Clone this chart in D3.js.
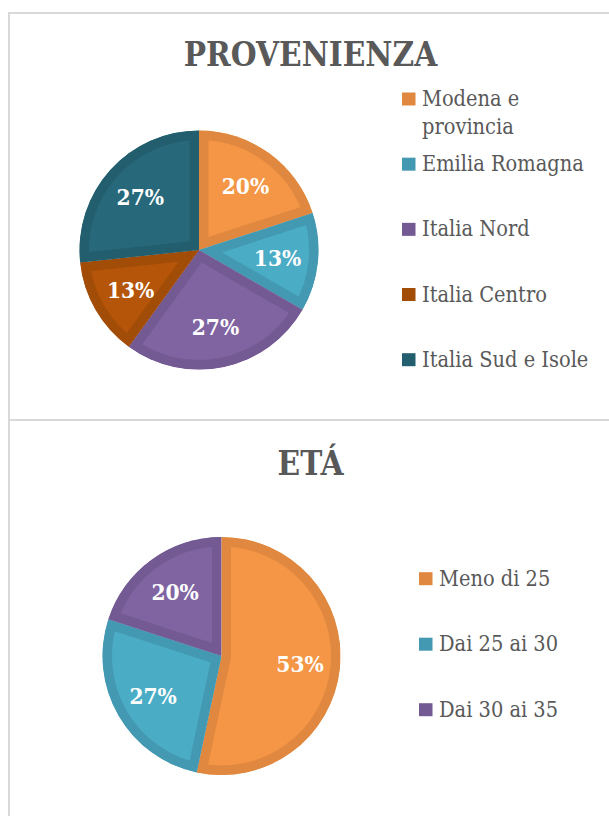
<!DOCTYPE html>
<html>
<head>
<meta charset="utf-8">
<script src="https://cdn.jsdelivr.net/npm/d3@7"></script>
<style>
  html, body { margin: 0; padding: 0; background: #fff; }
  svg { display: block; }
  text { font-stretch: condensed; }
</style>
</head>
<body>
<svg id="chart" width="609" height="816"></svg>
<script>
// ---- Data ----
const provTitle = "PROVENIENZA";
const provCategories = ["Modena e provincia", "Emilia Romagna", "Italia Nord", "Italia Centro", "Italia Sud e Isole"];
const provValues = [3, 2, 4, 2, 4];
const provLabels = ["20%", "13%", "27%", "13%", "27%"];

const etaTitle = "ETÁ";
const etaCategories = ["Meno di 25", "Dai 25 ai 30", "Dai 30 ai 35"];
const etaValues = [8, 4, 3];
const etaLabels = ["53%", "27%", "20%"];

// ---- Styles ----
const provFills = ["#F49645", "#4BACC6", "#8064A2", "#B45509", "#27697B"];
const provBorders = ["#E0883F", "#4499B2", "#745A93", "#A14C07", "#225E6E"];
const etaFills = ["#F49645", "#4BACC6", "#8064A2"];
const etaBorders = ["#E0883F", "#4499B2", "#745A93"];

const svg = d3.select("#chart");
const textColor = "#595959";
const serif = "'DejaVu Serif Condensed', 'DejaVu Serif', 'Liberation Serif', serif";

// panels
svg.append("rect").attr("x", 9).attr("y", 13).attr("width", 620).attr("height", 407)
  .attr("fill", "none").attr("stroke", "#d9d9d9").attr("stroke-width", 2);
svg.append("rect").attr("x", 9).attr("y", 420).attr("width", 620).attr("height", 420)
  .attr("fill", "none").attr("stroke", "#d9d9d9").attr("stroke-width", 2);

let clipId = 0;
const defs = svg.append("defs");

function drawPie(opts) {
  const g = svg.append("g");
  // title
  g.append("text")
    .attr("x", opts.titleX).attr("y", opts.titleY)
    .attr("text-anchor", "middle")
    .attr("font-family", serif).attr("font-weight", "bold")
    .attr("font-size", 33).attr("fill", textColor)
    .text(opts.title);

  const pie = d3.pie().sort(null).value(d => d.v);
  const data = pie(opts.values.map((v, i) => ({ v, i })));
  const arc = d3.arc().innerRadius(0).outerRadius(opts.r);
  const labelArc = d3.arc().innerRadius(opts.labelR).outerRadius(opts.labelR);

  const pg = g.append("g").attr("transform", `translate(${opts.cx},${opts.cy})`);

  data.forEach(d => {
    const id = "clip" + (clipId++);
    defs.append("clipPath").attr("id", id).append("path").attr("d", arc(d));
    pg.append("path")
      .attr("d", arc(d))
      .attr("fill", opts.fills[d.data.i])
      .attr("stroke", opts.borders[d.data.i])
      .attr("stroke-width", 19)
      .attr("stroke-linejoin", "miter")
      .attr("clip-path", `url(#${id})`);
  });

  pg.selectAll("text.lbl").data(data).enter().append("text")
    .attr("class", "lbl")
    .attr("x", d => labelArc.centroid(d)[0])
    .attr("y", d => labelArc.centroid(d)[1] + 8)
    .attr("text-anchor", "middle")
    .attr("font-family", serif).attr("font-weight", "bold")
    .attr("font-size", 22.5).attr("fill", "#ffffff")
    .text(d => opts.labels[d.data.i]);

  // legend
  const ly = d3.scaleLinear().domain([0, opts.categories.length - 1]).range(opts.legendRange);
  const lg = g.append("g");
  opts.categories.forEach((c, i) => {
    const y = ly(i);
    lg.append("rect")
      .attr("x", opts.legendX).attr("y", y - 13.5)
      .attr("width", 13.5).attr("height", 13)
      .attr("fill", opts.borders[i]);
    const t = lg.append("text")
      .attr("x", opts.legendX + 20).attr("y", y)
      .attr("font-family", serif).attr("font-size", 21.6).attr("fill", textColor);
    // word wrap
    const words = c.split(" ");
    let line = [];
    let tspan = t.append("tspan").attr("x", opts.legendX + 20).attr("dy", 0);
    words.forEach(w => {
      line.push(w);
      tspan.text(line.join(" "));
      if (tspan.node().getComputedTextLength() > opts.wrapW && line.length > 1) {
        line.pop();
        tspan.text(line.join(" "));
        line = [w];
        tspan = t.append("tspan").attr("x", opts.legendX + 20).attr("dy", 27.5).text(w);
      }
    });
  });
}

drawPie({
  title: provTitle, titleX: 310.5, titleY: 66,
  values: provValues, labels: provLabels, categories: provCategories,
  fills: provFills, borders: provBorders,
  cx: 199, cy: 250, r: 119.5, labelR: 79,
  legendX: 402, legendRange: [106, 366.7], wrapW: 172
});

drawPie({
  title: etaTitle, titleX: 310.5, titleY: 475,
  values: etaValues, labels: etaLabels, categories: etaCategories,
  fills: etaFills, borders: etaBorders,
  cx: 221.5, cy: 656, r: 119, labelR: 79,
  legendX: 419, legendRange: [585.7, 716.7], wrapW: 172
});
</script>
</body>
</html>
